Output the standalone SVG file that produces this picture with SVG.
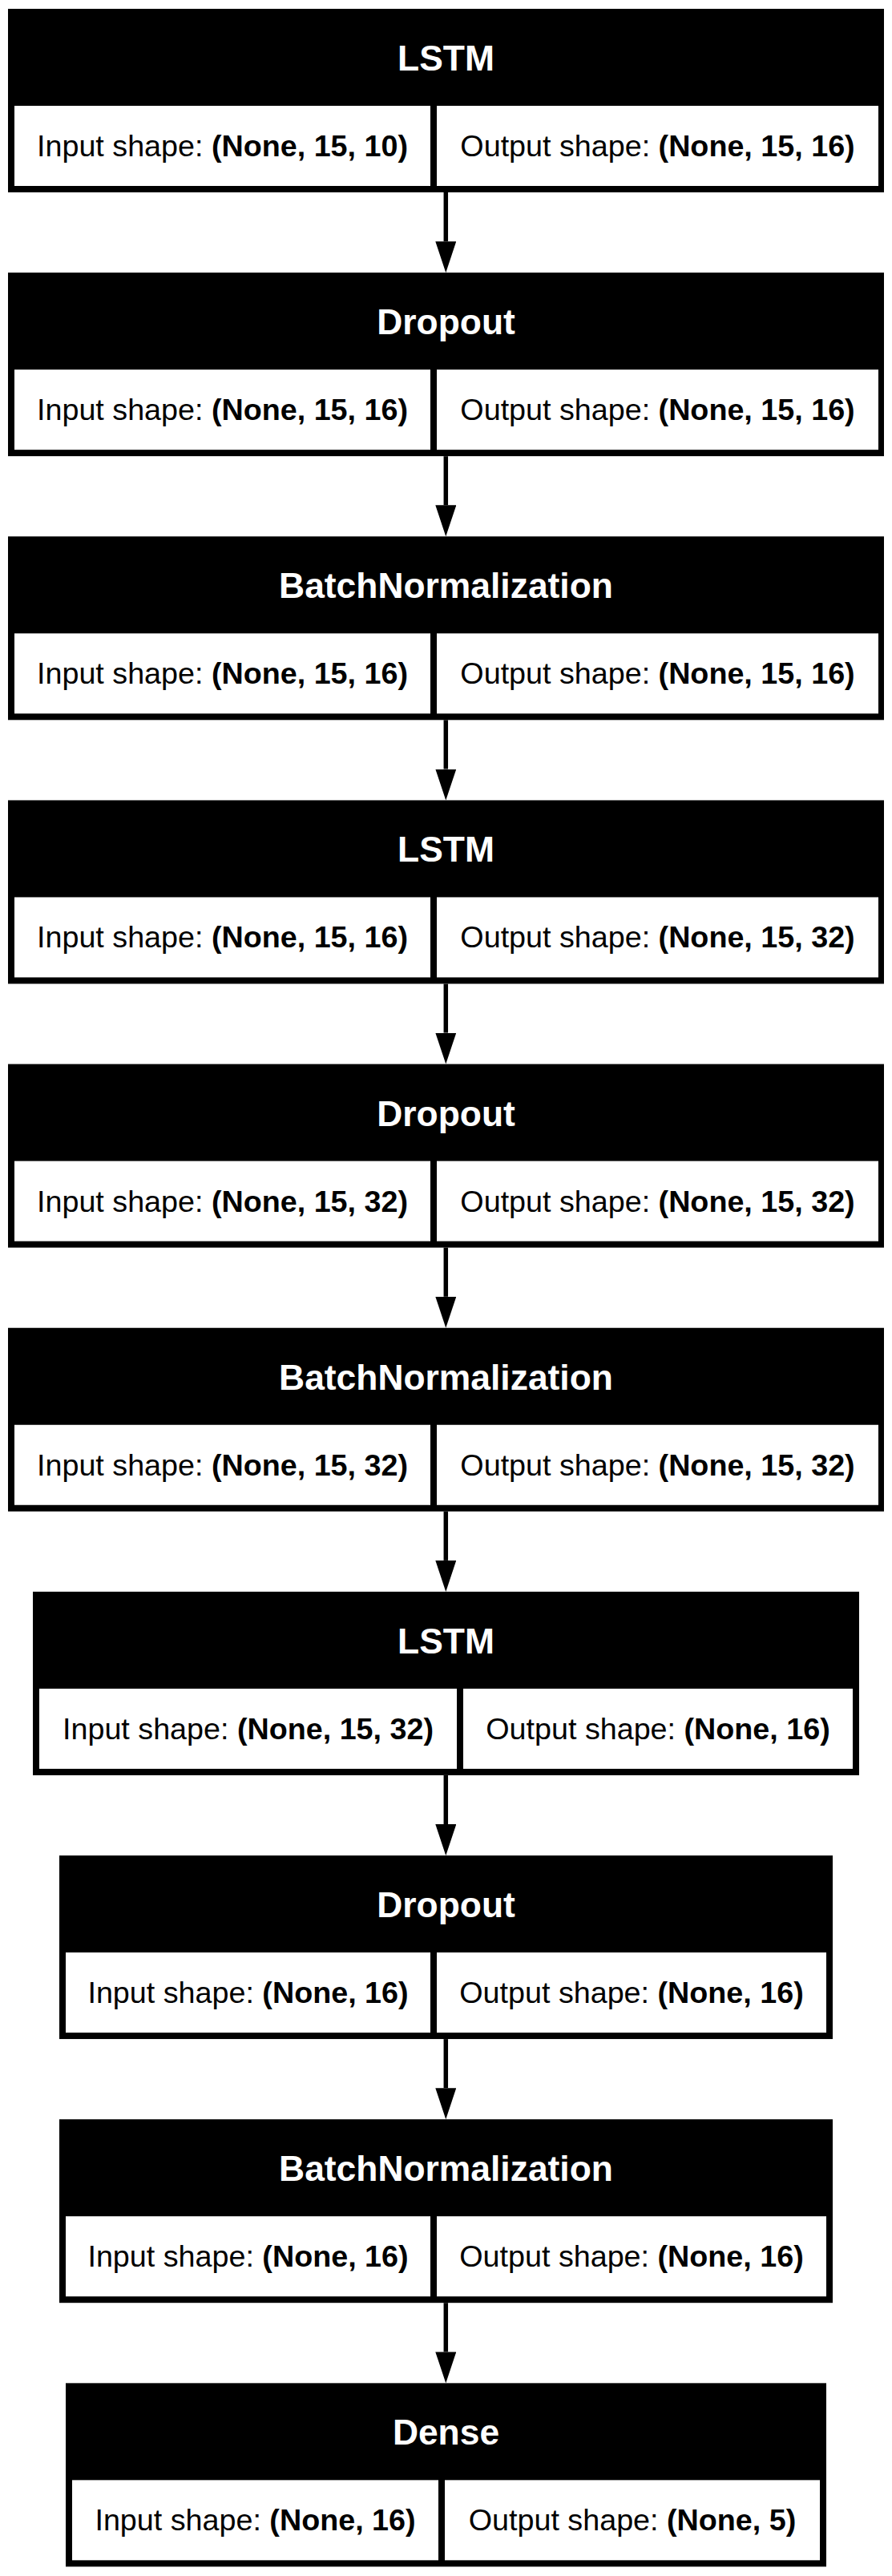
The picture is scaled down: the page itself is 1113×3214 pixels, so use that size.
<svg xmlns="http://www.w3.org/2000/svg" width="1113" height="3214" viewBox="0 0 1113 3214">
  <style>
    .frame { fill: #000000; }
    .cell { fill: #ffffff; }
    .title { font-family: "Liberation Sans", Arial, Helvetica, sans-serif; font-size: 44.4px; font-weight: bold; fill: #ffffff; text-anchor: middle; }
    .shape { font-family: "Liberation Sans", Arial, Helvetica, sans-serif; font-size: 37.7px; fill: #000000; text-anchor: middle; }
    .shape tspan.v { font-weight: bold; }
    .edge { stroke: #000000; stroke-width: 5.5; fill: none; }
  </style>
  <defs>
    <marker id="arrowhead" markerUnits="userSpaceOnUse" markerWidth="39" markerHeight="26" refX="0" refY="13" orient="auto">
      <path d="M0,0 L39,13 L0,26 Z" fill="#000000"/>
    </marker>
  </defs>
  <rect width="1113" height="3214" fill="#ffffff"/>

  <!-- connectors between consecutive layers -->
  <g id="connectors">
    <line class="edge" x1="556.3" y1="240" x2="556.3" y2="301.2" marker-end="url(#arrowhead)"/>
    <line class="edge" x1="556.3" y1="569.2" x2="556.3" y2="630.3" marker-end="url(#arrowhead)"/>
    <line class="edge" x1="556.3" y1="898.3" x2="556.3" y2="959.5" marker-end="url(#arrowhead)"/>
    <line class="edge" x1="556.3" y1="1227.5" x2="556.3" y2="1288.6" marker-end="url(#arrowhead)"/>
    <line class="edge" x1="556.3" y1="1556.6" x2="556.3" y2="1617.8" marker-end="url(#arrowhead)"/>
    <line class="edge" x1="556.3" y1="1885.8" x2="556.3" y2="1946.9" marker-end="url(#arrowhead)"/>
    <line class="edge" x1="556.3" y1="2214.9" x2="556.3" y2="2276.1" marker-end="url(#arrowhead)"/>
    <line class="edge" x1="556.3" y1="2544.1" x2="556.3" y2="2605.2" marker-end="url(#arrowhead)"/>
    <line class="edge" x1="556.3" y1="2873.2" x2="556.3" y2="2934.4" marker-end="url(#arrowhead)"/>
  </g>

  <!-- layer 1 -->
  <g id="lstm_1" transform="translate(0,11)">
    <rect class="frame" x="10" y="0" width="1093" height="229"/>
    <text class="title" x="556.5" y="77">LSTM</text>
    <rect class="cell" x="18" y="121" width="519" height="100"/>
    <rect class="cell" x="545" y="121" width="551" height="100"/>
    <text class="shape" x="277.5" y="184">Input shape: <tspan class="v">(None, 15, 10)</tspan></text>
    <text class="shape" x="820.5" y="184">Output shape: <tspan class="v">(None, 15, 16)</tspan></text>
  </g>

  <!-- layer 2 -->
  <g id="dropout_1" transform="translate(0,340.15)">
    <rect class="frame" x="10" y="0" width="1093" height="229"/>
    <text class="title" x="556.5" y="77">Dropout</text>
    <rect class="cell" x="18" y="121" width="519" height="100"/>
    <rect class="cell" x="545" y="121" width="551" height="100"/>
    <text class="shape" x="277.5" y="184">Input shape: <tspan class="v">(None, 15, 16)</tspan></text>
    <text class="shape" x="820.5" y="184">Output shape: <tspan class="v">(None, 15, 16)</tspan></text>
  </g>

  <!-- layer 3 -->
  <g id="batchnorm_1" transform="translate(0,669.3)">
    <rect class="frame" x="10" y="0" width="1093" height="229"/>
    <text class="title" x="556.5" y="77">BatchNormalization</text>
    <rect class="cell" x="18" y="121" width="519" height="100"/>
    <rect class="cell" x="545" y="121" width="551" height="100"/>
    <text class="shape" x="277.5" y="184">Input shape: <tspan class="v">(None, 15, 16)</tspan></text>
    <text class="shape" x="820.5" y="184">Output shape: <tspan class="v">(None, 15, 16)</tspan></text>
  </g>

  <!-- layer 4 -->
  <g id="lstm_2" transform="translate(0,998.45)">
    <rect class="frame" x="10" y="0" width="1093" height="229"/>
    <text class="title" x="556.5" y="77">LSTM</text>
    <rect class="cell" x="18" y="121" width="519" height="100"/>
    <rect class="cell" x="545" y="121" width="551" height="100"/>
    <text class="shape" x="277.5" y="184">Input shape: <tspan class="v">(None, 15, 16)</tspan></text>
    <text class="shape" x="820.5" y="184">Output shape: <tspan class="v">(None, 15, 32)</tspan></text>
  </g>

  <!-- layer 5 -->
  <g id="dropout_2" transform="translate(0,1327.6)">
    <rect class="frame" x="10" y="0" width="1093" height="229"/>
    <text class="title" x="556.5" y="77">Dropout</text>
    <rect class="cell" x="18" y="121" width="519" height="100"/>
    <rect class="cell" x="545" y="121" width="551" height="100"/>
    <text class="shape" x="277.5" y="184">Input shape: <tspan class="v">(None, 15, 32)</tspan></text>
    <text class="shape" x="820.5" y="184">Output shape: <tspan class="v">(None, 15, 32)</tspan></text>
  </g>

  <!-- layer 6 -->
  <g id="batchnorm_2" transform="translate(0,1656.75)">
    <rect class="frame" x="10" y="0" width="1093" height="229"/>
    <text class="title" x="556.5" y="77">BatchNormalization</text>
    <rect class="cell" x="18" y="121" width="519" height="100"/>
    <rect class="cell" x="545" y="121" width="551" height="100"/>
    <text class="shape" x="277.5" y="184">Input shape: <tspan class="v">(None, 15, 32)</tspan></text>
    <text class="shape" x="820.5" y="184">Output shape: <tspan class="v">(None, 15, 32)</tspan></text>
  </g>

  <!-- layer 7 -->
  <g id="lstm_3" transform="translate(0,1985.9)">
    <rect class="frame" x="41" y="0" width="1031" height="229"/>
    <text class="title" x="556.5" y="77">LSTM</text>
    <rect class="cell" x="49" y="121" width="521" height="100"/>
    <rect class="cell" x="578" y="121" width="486" height="100"/>
    <text class="shape" x="309.5" y="184">Input shape: <tspan class="v">(None, 15, 32)</tspan></text>
    <text class="shape" x="821" y="184">Output shape: <tspan class="v">(None, 16)</tspan></text>
  </g>

  <!-- layer 8 -->
  <g id="dropout_3" transform="translate(0,2315.05)">
    <rect class="frame" x="74" y="0" width="965" height="229"/>
    <text class="title" x="556.5" y="77">Dropout</text>
    <rect class="cell" x="82" y="121" width="455" height="100"/>
    <rect class="cell" x="545" y="121" width="486" height="100"/>
    <text class="shape" x="309.5" y="184">Input shape: <tspan class="v">(None, 16)</tspan></text>
    <text class="shape" x="788" y="184">Output shape: <tspan class="v">(None, 16)</tspan></text>
  </g>

  <!-- layer 9 -->
  <g id="batchnorm_3" transform="translate(0,2644.2)">
    <rect class="frame" x="74" y="0" width="965" height="229"/>
    <text class="title" x="556.5" y="77">BatchNormalization</text>
    <rect class="cell" x="82" y="121" width="455" height="100"/>
    <rect class="cell" x="545" y="121" width="486" height="100"/>
    <text class="shape" x="309.5" y="184">Input shape: <tspan class="v">(None, 16)</tspan></text>
    <text class="shape" x="788" y="184">Output shape: <tspan class="v">(None, 16)</tspan></text>
  </g>

  <!-- layer 10 -->
  <g id="dense" transform="translate(0,2973.35)">
    <rect class="frame" x="82" y="0" width="949" height="229"/>
    <text class="title" x="556.5" y="77">Dense</text>
    <rect class="cell" x="90" y="121" width="457" height="100"/>
    <rect class="cell" x="555" y="121" width="468" height="100"/>
    <text class="shape" x="318.5" y="184">Input shape: <tspan class="v">(None, 16)</tspan></text>
    <text class="shape" x="789" y="184">Output shape: <tspan class="v">(None, 5)</tspan></text>
  </g>
</svg>
